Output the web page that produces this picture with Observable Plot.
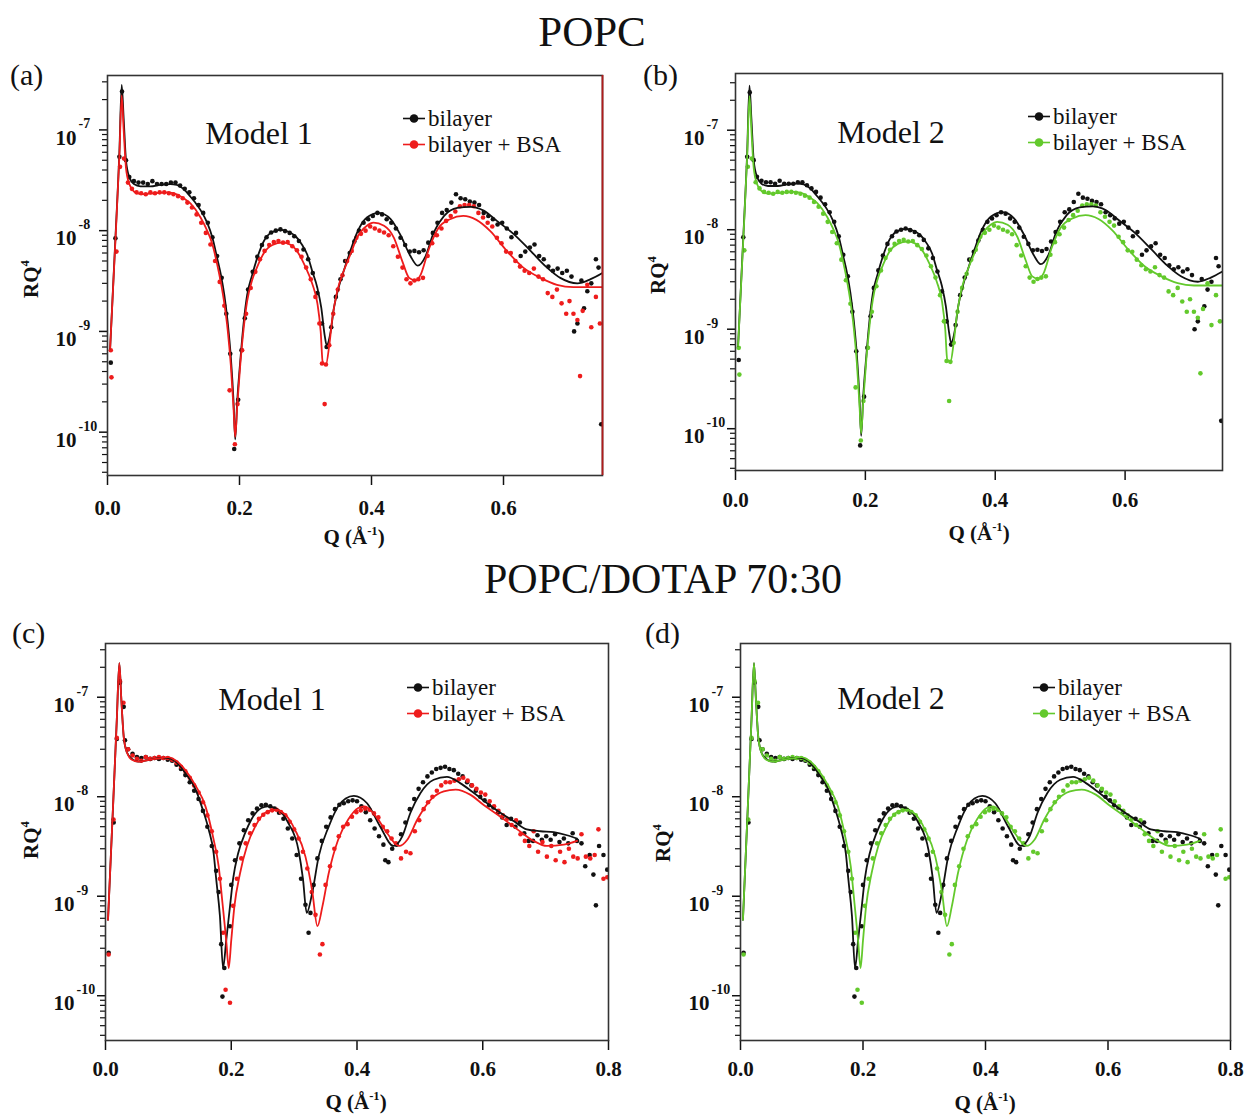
<!DOCTYPE html>
<html><head><meta charset="utf-8">
<script src="https://cdn.jsdelivr.net/npm/d3@7"></script>
<script src="https://cdn.jsdelivr.net/npm/@observablehq/plot@0.6"></script>
<style>
body{margin:0;background:#fff;}
#fig{position:relative;width:1247px;height:1118px;font-family:"Liberation Serif","Times New Roman",serif;color:#111;overflow:hidden;background:#fff}
.abs{position:absolute;white-space:nowrap;line-height:1}
.c{transform:translate(-50%,-50%)}
.rot{transform:translate(-50%,-50%) rotate(-90deg)}
sup{font-size:0.6em;vertical-align:0.7em;line-height:0}
svg{position:absolute;overflow:visible}
</style></head><body><div id="fig"></div>
<script>
// ---------- data (Q in 1/Å, RQ^4) ----------
const popcBilayerPts = [[0.005,4.9e-10],[0.012,8.4e-9],[0.018,5.4e-8],[0.022,2.4e-7],[0.028,5.0e-8],[0.033,3.4e-8],[0.040,3.1e-8],[0.047,3.0e-8],[0.054,3.0e-8],[0.061,2.9e-8],[0.068,3.1e-8],[0.075,2.9e-8],[0.082,2.9e-8],[0.089,2.9e-8],[0.096,3.0e-8],[0.103,3.0e-8],[0.110,2.8e-8],[0.117,2.6e-8],[0.124,2.4e-8],[0.131,2.1e-8],[0.138,1.8e-8],[0.145,1.5e-8],[0.152,1.2e-8],[0.159,8.6e-9],[0.166,5.6e-9],[0.173,3.4e-9],[0.180,1.5e-9],[0.186,6.0e-10],[0.192,6.8e-11],[0.198,2.1e-10],[0.203,6.5e-10],[0.208,1.35e-9],[0.213,2.6e-9],[0.220,3.9e-9],[0.227,5.5e-9],[0.234,7.2e-9],[0.241,8.6e-9],[0.248,9.6e-9],[0.255,1.0e-8],[0.262,1.03e-8],[0.269,9.9e-9],[0.276,9.5e-9],[0.283,8.8e-9],[0.290,7.9e-9],[0.297,6.5e-9],[0.304,5.2e-9],[0.311,3.8e-9],[0.318,2.4e-9],[0.325,1.2e-9],[0.332,7.0e-10],[0.339,1.1e-9],[0.346,2.2e-9],[0.353,3.3e-9],[0.360,5.0e-9],[0.367,6.0e-9],[0.374,7.8e-9],[0.381,1.0e-8],[0.388,1.2e-8],[0.395,1.3e-8],[0.402,1.4e-8],[0.409,1.5e-8],[0.416,1.45e-8],[0.423,1.3e-8],[0.430,1.2e-8],[0.437,1.05e-8],[0.444,8.5e-9],[0.451,7.2e-9],[0.458,6.2e-9],[0.465,6.3e-9],[0.472,6.1e-9],[0.479,6.4e-9],[0.486,7.6e-9],[0.493,9.5e-9],[0.500,1.2e-8],[0.507,1.5e-8],[0.514,1.6e-8],[0.521,1.9e-8],[0.528,2.3e-8],[0.535,2.1e-8],[0.542,2.05e-8],[0.549,1.95e-8],[0.556,1.9e-8],[0.563,1.8e-8],[0.570,1.5e-8],[0.577,1.4e-8],[0.584,1.3e-8],[0.591,1.15e-8],[0.598,1.2e-8],[0.605,1.05e-8],[0.612,8.6e-9],[0.619,9.5e-9],[0.626,5.6e-9],[0.633,6.2e-9],[0.640,6.8e-9],[0.647,7.3e-9],[0.654,5.6e-9],[0.661,5.2e-9],[0.668,4.4e-9],[0.675,4.0e-9],[0.682,4.2e-9],[0.689,3.8e-9],[0.696,4.0e-9],[0.703,3.5e-9],[0.707,1.0e-9],[0.712,1.2e-9],[0.718,3.2e-9],[0.722,1.7e-9],[0.727,2.5e-9],[0.733,3.0e-9],[0.740,5.2e-9],[0.744,4.3e-9],[0.748,1.2e-10]];
const popcBsaPts = [[0.005,6.5e-10],[0.006,3.5e-10],[0.0136,6.2e-9],[0.019,4.3e-8],[0.025,5.2e-8],[0.031,3.0e-8],[0.037,2.6e-8],[0.044,2.4e-8],[0.051,2.35e-8],[0.058,2.3e-8],[0.065,2.4e-8],[0.072,2.35e-8],[0.079,2.4e-8],[0.086,2.4e-8],[0.093,2.35e-8],[0.100,2.3e-8],[0.107,2.2e-8],[0.114,2.1e-8],[0.121,1.9e-8],[0.128,1.7e-8],[0.135,1.45e-8],[0.142,1.2e-8],[0.149,9.5e-9],[0.156,7.3e-9],[0.163,5.0e-9],[0.170,3.1e-9],[0.177,1.8e-9],[0.185,2.6e-10],[0.193,7.6e-11],[0.197,1.9e-10],[0.204,6.5e-10],[0.210,1.5e-9],[0.217,2.7e-9],[0.224,3.9e-9],[0.231,5.2e-9],[0.238,6.3e-9],[0.245,7.2e-9],[0.252,7.7e-9],[0.259,7.9e-9],[0.266,7.6e-9],[0.273,7.7e-9],[0.280,7.0e-9],[0.287,6.4e-9],[0.294,5.5e-9],[0.301,4.3e-9],[0.308,3.3e-9],[0.315,2.2e-9],[0.321,1.2e-9],[0.325,4.8e-10],[0.329,1.9e-10],[0.331,4.7e-10],[0.336,7.3e-10],[0.342,1.5e-9],[0.349,2.6e-9],[0.356,3.6e-9],[0.363,5.0e-9],[0.370,6.3e-9],[0.377,8.5e-9],[0.384,9.3e-9],[0.391,1.0e-8],[0.398,1.1e-8],[0.405,1.05e-8],[0.412,1.0e-8],[0.419,9.6e-9],[0.426,9.0e-9],[0.433,7.0e-9],[0.440,5.5e-9],[0.447,4.3e-9],[0.453,3.3e-9],[0.459,3.0e-9],[0.465,3.2e-9],[0.471,3.3e-9],[0.478,3.4e-9],[0.485,5.6e-9],[0.492,7.5e-9],[0.499,9.0e-9],[0.506,1.05e-8],[0.513,1.25e-8],[0.520,1.4e-8],[0.527,1.55e-8],[0.534,1.75e-8],[0.541,1.8e-8],[0.548,1.8e-8],[0.555,1.75e-8],[0.562,1.5e-8],[0.569,1.35e-8],[0.576,1.2e-8],[0.583,1.1e-8],[0.590,8.5e-9],[0.597,7.5e-9],[0.604,6.2e-9],[0.611,6.0e-9],[0.618,5.0e-9],[0.625,4.4e-9],[0.632,4.0e-9],[0.639,3.8e-9],[0.646,4.2e-9],[0.653,3.5e-9],[0.660,3.3e-9],[0.667,2.4e-9],[0.674,2.2e-9],[0.681,2.6e-9],[0.688,1.9e-9],[0.695,1.5e-9],[0.700,2.0e-9],[0.706,1.5e-9],[0.712,1.3e-9],[0.716,3.6e-10],[0.720,1.6e-9],[0.727,2.9e-9],[0.733,1.1e-9],[0.740,2.2e-9],[0.746,1.2e-9]];
const popcBilayerFit = [[0.004,6.8e-10],[0.012,8.4e-9],[0.018,6.0e-8],[0.0215,2.8e-7],[0.0245,1.3e-7],[0.028,5.0e-8],[0.033,3.4e-8],[0.040,2.9e-8],[0.050,2.75e-8],[0.065,2.75e-8],[0.080,2.85e-8],[0.095,2.9e-8],[0.105,2.85e-8],[0.115,2.6e-8],[0.125,2.2e-8],[0.133,1.9e-8],[0.141,1.6e-8],[0.151,1.2e-8],[0.159,8.5e-9],[0.166,5.4e-9],[0.172,3.6e-9],[0.177,2.3e-9],[0.182,1.25e-9],[0.187,5.4e-10],[0.191,2.0e-10],[0.1935,8.5e-11],[0.1965,2.0e-10],[0.2015,5.4e-10],[0.2065,1.25e-9],[0.2116,2.3e-9],[0.219,3.6e-9],[0.227,5.4e-9],[0.237,7.9e-9],[0.247,9.5e-9],[0.262,1.02e-8],[0.275,9.7e-9],[0.285,8.8e-9],[0.295,7.2e-9],[0.3026,5.8e-9],[0.310,4.0e-9],[0.318,2.7e-9],[0.324,1.7e-9],[0.329,9.2e-10],[0.332,7.3e-10],[0.338,9.9e-10],[0.343,1.7e-9],[0.350,2.7e-9],[0.358,4.0e-9],[0.368,6.3e-9],[0.378,9.5e-9],[0.393,1.35e-8],[0.411,1.5e-8],[0.429,1.3e-8],[0.444,9.0e-9],[0.459,5.6e-9],[0.470,4.5e-9],[0.482,5.6e-9],[0.494,9.5e-9],[0.510,1.4e-8],[0.530,1.68e-8],[0.550,1.72e-8],[0.570,1.58e-8],[0.590,1.25e-8],[0.616,9.2e-9],[0.641,6.3e-9],[0.666,4.3e-9],[0.686,3.4e-9],[0.712,3.0e-9],[0.732,3.3e-9],[0.750,3.8e-9]];
const popcBsaFit = [[0.004,6.8e-10],[0.012,8.0e-9],[0.018,5.5e-8],[0.0215,2.2e-7],[0.0245,1.0e-7],[0.028,4.2e-8],[0.033,2.9e-8],[0.040,2.45e-8],[0.050,2.3e-8],[0.070,2.35e-8],[0.090,2.4e-8],[0.105,2.3e-8],[0.115,2.1e-8],[0.126,1.85e-8],[0.141,1.35e-8],[0.151,1.0e-8],[0.159,7.3e-9],[0.166,4.7e-9],[0.172,3.0e-9],[0.177,1.9e-9],[0.182,1.05e-9],[0.187,4.5e-10],[0.191,1.7e-10],[0.1935,9.0e-11],[0.1965,1.8e-10],[0.2015,5.0e-10],[0.2065,1.1e-9],[0.2116,2.0e-9],[0.219,3.2e-9],[0.227,4.4e-9],[0.237,6.0e-9],[0.250,7.2e-9],[0.265,7.6e-9],[0.278,7.2e-9],[0.289,6.0e-9],[0.299,4.5e-9],[0.310,3.0e-9],[0.318,1.9e-9],[0.323,1.0e-9],[0.326,5.0e-10],[0.331,4.7e-10],[0.336,7.3e-10],[0.341,1.4e-9],[0.348,2.5e-9],[0.358,4.0e-9],[0.368,5.8e-9],[0.378,8.5e-9],[0.393,1.12e-8],[0.403,1.2e-8],[0.419,1.12e-8],[0.434,8.5e-9],[0.447,4.9e-9],[0.457,3.4e-9],[0.467,3.2e-9],[0.474,3.6e-9],[0.487,6.6e-9],[0.501,1.05e-8],[0.519,1.3e-8],[0.539,1.4e-8],[0.559,1.28e-8],[0.580,9.9e-9],[0.605,6.3e-9],[0.630,4.3e-9],[0.656,3.4e-9],[0.681,2.9e-9],[0.706,2.75e-9],[0.750,2.75e-9]];

const dotapBilayerPts = [[0.005,2.7e-10],[0.013,5.5e-9],[0.018,3.8e-8],[0.023,1.4e-7],[0.029,8.0e-8],[0.031,3.7e-8],[0.036,3.0e-8],[0.043,2.7e-8],[0.050,2.5e-8],[0.057,2.45e-8],[0.064,2.5e-8],[0.071,2.4e-8],[0.078,2.45e-8],[0.085,2.4e-8],[0.092,2.45e-8],[0.099,2.35e-8],[0.106,2.3e-8],[0.113,2.1e-8],[0.120,1.9e-8],[0.127,1.65e-8],[0.134,1.4e-8],[0.141,1.15e-8],[0.148,9.5e-9],[0.155,7.2e-9],[0.162,5.0e-9],[0.169,3.2e-9],[0.176,1.8e-9],[0.180,1.1e-9],[0.184,3.3e-10],[0.186,9.8e-11],[0.189,1.9e-10],[0.198,5.0e-10],[0.200,1.3e-9],[0.206,2.3e-9],[0.213,3.4e-9],[0.220,4.6e-9],[0.227,5.8e-9],[0.234,6.8e-9],[0.241,7.6e-9],[0.248,8.2e-9],[0.255,8.3e-9],[0.262,8.0e-9],[0.269,7.6e-9],[0.276,6.9e-9],[0.283,6.0e-9],[0.290,4.8e-9],[0.297,3.8e-9],[0.304,2.6e-9],[0.311,1.5e-9],[0.318,8.2e-10],[0.323,4.3e-10],[0.326,6.8e-10],[0.331,1.3e-9],[0.337,2.4e-9],[0.344,3.6e-9],[0.351,5.0e-9],[0.358,6.2e-9],[0.365,7.5e-9],[0.372,8.3e-9],[0.379,8.6e-9],[0.386,9.0e-9],[0.393,9.2e-9],[0.400,9.0e-9],[0.407,8.0e-9],[0.414,7.0e-9],[0.421,5.8e-9],[0.428,4.8e-9],[0.435,4.0e-9],[0.442,3.3e-9],[0.445,2.3e-9],[0.450,2.2e-9],[0.456,3.0e-9],[0.463,3.3e-9],[0.470,4.2e-9],[0.477,5.5e-9],[0.484,7.5e-9],[0.491,9.5e-9],[0.498,1.2e-8],[0.505,1.4e-8],[0.512,1.6e-8],[0.519,1.75e-8],[0.526,1.9e-8],[0.533,1.95e-8],[0.540,2.0e-8],[0.547,1.9e-8],[0.554,1.85e-8],[0.561,1.7e-8],[0.568,1.6e-8],[0.575,1.4e-8],[0.582,1.3e-8],[0.589,1.15e-8],[0.596,1.0e-8],[0.603,9.2e-9],[0.610,8.2e-9],[0.617,7.8e-9],[0.624,6.9e-9],[0.631,6.2e-9],[0.638,5.2e-9],[0.645,6.0e-9],[0.652,5.0e-9],[0.659,5.5e-9],[0.666,4.3e-9],[0.673,3.6e-9],[0.680,3.6e-9],[0.687,4.1e-9],[0.694,3.7e-9],[0.701,4.0e-9],[0.708,3.7e-9],[0.715,4.2e-9],[0.722,3.5e-9],[0.729,3.8e-9],[0.736,3.4e-9],[0.743,4.3e-9],[0.750,3.6e-9],[0.757,3.4e-9],[0.763,2.0e-9],[0.770,2.6e-9],[0.776,1.65e-9],[0.780,8.1e-10],[0.785,3.2e-9],[0.792,2.6e-9],[0.798,1.85e-9]];
const dotapBsaPts = [[0.005,2.6e-10],[0.0127,5.9e-9],[0.018,3.9e-8],[0.023,1.45e-7],[0.0286,8.8e-8],[0.036,3.0e-8],[0.043,2.6e-8],[0.050,2.4e-8],[0.057,2.3e-8],[0.064,2.5e-8],[0.071,2.4e-8],[0.078,2.45e-8],[0.085,2.5e-8],[0.092,2.45e-8],[0.099,2.45e-8],[0.106,2.35e-8],[0.113,2.2e-8],[0.120,2.0e-8],[0.127,1.8e-8],[0.134,1.55e-8],[0.141,1.3e-8],[0.148,1.1e-8],[0.155,8.8e-9],[0.162,6.5e-9],[0.169,4.5e-9],[0.176,2.8e-9],[0.182,1.5e-9],[0.187,4.3e-10],[0.191,1.15e-10],[0.198,8.5e-11],[0.203,8.0e-10],[0.209,1.5e-9],[0.216,2.4e-9],[0.223,3.4e-9],[0.230,4.3e-9],[0.237,5.2e-9],[0.244,6.0e-9],[0.251,6.6e-9],[0.258,7.0e-9],[0.265,7.3e-9],[0.272,7.4e-9],[0.279,7.0e-9],[0.286,6.5e-9],[0.293,5.6e-9],[0.300,4.7e-9],[0.307,3.8e-9],[0.314,2.8e-9],[0.321,1.9e-9],[0.328,1.1e-9],[0.334,6.5e-10],[0.341,2.6e-10],[0.345,3.3e-10],[0.350,1.3e-9],[0.357,2.0e-9],[0.364,3.0e-9],[0.371,4.0e-9],[0.378,5.0e-9],[0.385,5.3e-9],[0.392,6.3e-9],[0.399,7.0e-9],[0.406,7.3e-9],[0.413,7.6e-9],[0.420,7.4e-9],[0.427,6.8e-9],[0.434,6.2e-9],[0.441,5.0e-9],[0.448,4.5e-9],[0.455,3.8e-9],[0.462,3.4e-9],[0.470,2.4e-9],[0.478,2.8e-9],[0.485,2.7e-9],[0.492,4.5e-9],[0.499,5.8e-9],[0.506,7.5e-9],[0.513,8.8e-9],[0.520,1.0e-8],[0.527,1.15e-8],[0.534,1.3e-8],[0.541,1.4e-8],[0.548,1.4e-8],[0.555,1.45e-8],[0.562,1.5e-8],[0.569,1.55e-8],[0.576,1.45e-8],[0.583,1.3e-8],[0.590,1.2e-8],[0.597,1.1e-8],[0.604,1.05e-8],[0.611,9.0e-9],[0.618,8.0e-9],[0.625,7.2e-9],[0.632,6.5e-9],[0.639,6.0e-9],[0.646,5.2e-9],[0.653,5.8e-9],[0.660,4.2e-9],[0.667,3.6e-9],[0.674,3.2e-9],[0.681,4.5e-9],[0.688,2.8e-9],[0.695,3.5e-9],[0.702,2.5e-9],[0.709,3.2e-9],[0.716,2.3e-9],[0.723,2.8e-9],[0.730,2.2e-9],[0.737,3.0e-9],[0.744,2.5e-9],[0.751,2.4e-9],[0.757,4.2e-9],[0.764,2.5e-9],[0.771,2.4e-9],[0.778,2.6e-9],[0.784,4.7e-9],[0.792,1.5e-9],[0.798,1.55e-9]];
const dotapBilayerFit = [[0.004,5.8e-10],[0.012,8.0e-9],[0.018,6.0e-8],[0.022,2.2e-7],[0.025,1.0e-7],[0.029,4.0e-8],[0.034,2.8e-8],[0.042,2.4e-8],[0.052,2.25e-8],[0.070,2.35e-8],[0.090,2.45e-8],[0.100,2.45e-8],[0.110,2.3e-8],[0.118,2.05e-8],[0.127,1.73e-8],[0.143,1.2e-8],[0.153,8.0e-9],[0.164,4.7e-9],[0.172,2.7e-9],[0.176,1.5e-9],[0.182,6.3e-10],[0.187,1.9e-10],[0.192,3.6e-10],[0.198,7.9e-10],[0.203,1.5e-9],[0.211,2.7e-9],[0.222,4.3e-9],[0.232,5.9e-9],[0.248,7.7e-9],[0.258,8.0e-9],[0.275,7.4e-9],[0.291,5.4e-9],[0.307,2.9e-9],[0.314,1.5e-9],[0.320,6.8e-10],[0.329,1.1e-9],[0.339,2.5e-9],[0.355,5.0e-9],[0.370,8.0e-9],[0.382,9.6e-9],[0.395,1.02e-8],[0.416,8.6e-9],[0.437,5.0e-9],[0.458,3.2e-9],[0.472,4.0e-9],[0.485,6.9e-9],[0.501,1.09e-8],[0.522,1.48e-8],[0.543,1.58e-8],[0.564,1.37e-8],[0.586,1.09e-8],[0.607,8.6e-9],[0.628,6.9e-9],[0.649,5.7e-9],[0.670,4.7e-9],[0.692,4.5e-9],[0.713,4.4e-9],[0.734,4.1e-9],[0.750,3.8e-9]];
const dotapBsaFit = [[0.004,5.8e-10],[0.012,8.0e-9],[0.018,6.0e-8],[0.022,2.2e-7],[0.025,1.0e-7],[0.029,4.0e-8],[0.034,2.8e-8],[0.042,2.35e-8],[0.052,2.25e-8],[0.070,2.35e-8],[0.090,2.45e-8],[0.100,2.5e-8],[0.110,2.35e-8],[0.118,2.15e-8],[0.127,1.85e-8],[0.143,1.3e-8],[0.159,8.0e-9],[0.172,3.7e-9],[0.180,2.0e-9],[0.186,8.6e-10],[0.192,3.6e-10],[0.196,1.9e-10],[0.200,3.6e-10],[0.205,7.9e-10],[0.214,1.7e-9],[0.225,3.2e-9],[0.238,5.0e-9],[0.254,6.9e-9],[0.270,7.4e-9],[0.286,6.6e-9],[0.301,4.7e-9],[0.318,2.5e-9],[0.329,1.1e-9],[0.337,5.0e-10],[0.345,7.9e-10],[0.355,1.7e-9],[0.370,3.7e-9],[0.386,5.9e-9],[0.402,7.7e-9],[0.412,8.0e-9],[0.432,6.1e-9],[0.448,4.3e-9],[0.467,3.2e-9],[0.480,3.7e-9],[0.496,5.9e-9],[0.517,9.3e-9],[0.538,1.13e-8],[0.557,1.18e-8],[0.580,1.05e-8],[0.601,8.3e-9],[0.628,6.3e-9],[0.655,4.7e-9],[0.681,3.6e-9],[0.702,3.2e-9],[0.729,3.3e-9],[0.750,3.6e-9]];

const xTicksA = [0, 0.2, 0.4, 0.6];
const xTicksC = [0, 0.2, 0.4, 0.6, 0.8];
const yDecades = [1e-10, 1e-9, 1e-8, 1e-7];
const yMinor = [];
for (let e = -11; e <= -7; e++) for (let m = 2; m <= 9; m++) yMinor.push(m * 10 ** e);
const seriesNames = ["bilayer", "bilayer + BSA"];
const titles = ["POPC", "POPC/DOTAP 70:30"];

const BLACK = "#111111", RED = "#ee1c1c", GREEN = "#63c92c";

const fig = document.getElementById("fig");
function addText(html, x, y, css, cls="abs c") {
  const d = document.createElement("div");
  d.className = cls;
  d.style.left = x + "px"; d.style.top = y + "px";
  d.style.cssText += css;
  d.innerHTML = html;
  fig.appendChild(d);
  return d;
}

function panel(cfg) {
  const mR = 15, mB = 55;
  const W = cfg.frameR - cfg.left + mR;
  const H = cfg.frameB - cfg.top + mB;
  const yDom = [10 ** cfg.yLo, 10 ** cfg.yHi];
  const dec = yDecades.filter(d => d >= yDom[0] && d <= yDom[1]);
  const minors = yMinor.filter(d => d >= yDom[0] && d <= yDom[1]);
  const X = d => d[0], Y = d => d[1];
  const marks = [
    Plot.axisX({ticks: cfg.xTicks, tickSize: 10, tickPadding: cfg.labPad, tickFormat: d3.format(".1f"), label: null, fontSize: 21, fontWeight: "bold", strokeWidth: 1.5}),
    Plot.axisY({ticks: dec, tickSize: 8, tickFormat: () => "", label: null, strokeWidth: 1.5}),
    Plot.axisY({ticks: minors, tickSize: 5, tickFormat: () => "", label: null, strokeWidth: 1.2}),
    Plot.text(dec, {y: d => d, frameAnchor: "left", dx: -31, dy: 8, text: () => "10", textAnchor: "end", fontSize: 21, fontWeight: "bold"}),
    Plot.text(dec, {y: d => d, frameAnchor: "left", dx: -29, dy: -6, text: d => String(Math.round(Math.log10(d))), textAnchor: "start", fontSize: 14, fontWeight: "bold"}),
    Plot.dot(cfg.blackPts, {x: X, y: Y, r: 2.3, fill: BLACK, clip: true}),
    Plot.dot(cfg.colPts, {x: X, y: Y, r: 2.3, fill: cfg.color, clip: true}),
    Plot.line(cfg.blackFit, {x: X, y: Y, stroke: BLACK, strokeWidth: 1.8, curve: "monotone-x", clip: true}),
    Plot.line(cfg.colFit, {x: X, y: Y, stroke: cfg.color, strokeWidth: 1.8, curve: "monotone-x", clip: true}),
    Plot.frame({stroke: "#333", strokeWidth: 1.6})
  ];
  if (cfg.edge) marks.push(Plot.ruleX([cfg.xMax], {stroke: cfg.edge, strokeWidth: 1.8}));
  const svg = Plot.plot({
    width: W, height: H,
    marginLeft: cfg.frameL - cfg.left, marginRight: mR,
    marginTop: cfg.frameT - cfg.top, marginBottom: mB,
    style: {fontFamily: '"Liberation Serif", "Times New Roman", serif', fontSize: "21px", fontWeight: "bold", color: "#111", background: "transparent"},
    x: {domain: [0, cfg.xMax]},
    y: {type: "log", domain: yDom},
    marks
  });
  svg.style.left = cfg.left + "px";
  svg.style.top = cfg.top + "px";
  fig.appendChild(svg);

  // panel texts
  addText(cfg.tag, cfg.tagX, cfg.tagY, "font-size:30px;", "abs");
  addText(cfg.model, cfg.modelX, cfg.modelY, "font-size:32px;");
  addText("Q (Å<sup>-1</sup>)", cfg.qX, cfg.qY, "font-size:21px;font-weight:bold;");
  addText("RQ<sup>4</sup>", cfg.rqX, cfg.rqY, "font-size:21px;font-weight:bold;", "abs rot");
  const mk = c => `<svg width="22" height="10" style="position:relative;display:inline-block;vertical-align:middle;overflow:visible"><line x1="0" y1="5" x2="22" y2="5" stroke="${c}" stroke-width="1.6"/><circle cx="11" cy="5" r="4.3" fill="${c}"/></svg>`;
  [[BLACK, seriesNames[0]], [cfg.color, seriesNames[1]]].forEach(([c, name], i) => {
    const d = addText(`<span style="display:inline-block;width:22px;height:10px;position:relative;top:-2px">${mk(c)}</span><span style="margin-left:3px">${name}</span>`,
      cfg.legX, cfg.legY + i * 26, "font-size:23px;transform:translateY(-50%);", "abs");
  });
}

// titles
addText(titles[0], 592, 31, "font-size:43px;");
addText(titles[1], 663, 579, "font-size:42px;");

panel({left: 0, top: 60, frameL: 107, frameR: 602, frameT: 75, frameB: 475, xMax: 0.75, xTicks: xTicksA, yLo: -10.43, yHi: -6.46, labPad: 15,
  blackPts: popcBilayerPts, colPts: popcBsaPts, blackFit: popcBilayerFit, colFit: popcBsaFit, color: RED, edge: "#b01c1c",
  tag: "(a)", tagX: 10, tagY: 60, model: "Model 1", modelX: 259, modelY: 133, qX: 354, qY: 537, rqX: 31, rqY: 279, legX: 403, legY: 118});
panel({left: 623, top: 60, frameL: 735, frameR: 1222, frameT: 73, frameB: 470, xMax: 0.75, xTicks: xTicksA, yLo: -10.42, yHi: -6.43, labPad: 12,
  blackPts: popcBilayerPts, colPts: popcBsaPts, blackFit: popcBilayerFit, colFit: popcBsaFit, color: GREEN,
  tag: "(b)", tagX: 643, tagY: 60, model: "Model 2", modelX: 891, modelY: 132, qX: 979, qY: 533, rqX: 658, rqY: 275, legX: 1028, legY: 116});
panel({left: 0, top: 625, frameL: 105, frameR: 608, frameT: 643, frameB: 1040, xMax: 0.8, xTicks: xTicksC, yLo: -10.45, yHi: -6.46, labPad: 11,
  blackPts: dotapBilayerPts, colPts: dotapBsaPts, blackFit: dotapBilayerFit, colFit: dotapBsaFit, color: RED,
  tag: "(c)", tagX: 12, tagY: 618, model: "Model 1", modelX: 272, modelY: 699, qX: 356, qY: 1102, rqX: 31, rqY: 840, legX: 407, legY: 687});
panel({left: 623, top: 625, frameL: 740, frameR: 1230, frameT: 643, frameB: 1040, xMax: 0.8, xTicks: xTicksC, yLo: -10.45, yHi: -6.46, labPad: 11,
  blackPts: dotapBilayerPts, colPts: dotapBsaPts, blackFit: dotapBilayerFit, colFit: dotapBsaFit, color: GREEN,
  tag: "(d)", tagX: 645, tagY: 618, model: "Model 2", modelX: 891, modelY: 698, qX: 985, qY: 1103, rqX: 663, rqY: 843, legX: 1033, legY: 687});
</script></body></html>
